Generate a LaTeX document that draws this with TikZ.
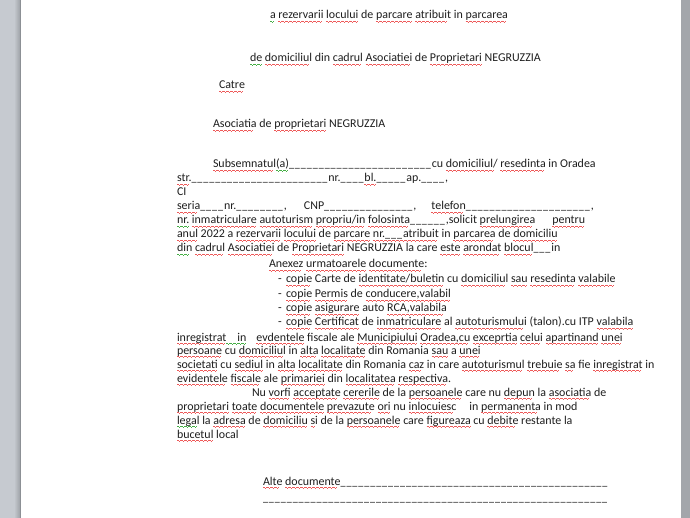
\documentclass[tikz,border=0pt]{standalone}
\usepackage{fontspec}
\setmainfont{Carlito}
\usepackage{xcolor}
\usepackage{graphicx}
\definecolor{textcol}{RGB}{30,30,30}
\definecolor{sqred}{RGB}{238,90,90}
\definecolor{sqgreen}{RGB}{70,175,70}
\definecolor{barlight}{RGB}{198,202,208}
\definecolor{bardark}{RGB}{158,162,167}
\definecolor{baredge}{RGB}{140,144,149}
\definecolor{barright}{RGB}{163,166,171}
\newsavebox\wbox
\newcommand\waveunit{\rule[1pt]{1pt}{0.6pt}\rule[0.5pt]{1pt}{0.6pt}\rule[0pt]{1pt}{0.6pt}\rule[0.5pt]{1pt}{0.6pt}}
\newcommand\wav[2]{\sbox\wbox{#2}\rlap{\lower3.2pt\hbox to\wd\wbox{\color{#1}\leaders\hbox{\waveunit}\hfill}}\usebox\wbox}
\newcommand\R[1]{\wav{sqred}{#1}}
\newcommand\G[1]{\wav{sqgreen}{#1}}
\newcount\ucnt
\newcommand\us{\rlap{\scalebox{0.84}[1]{\_}}\phantom{\_}}
\newcommand\bl[1]{\ucnt=#1\relax\loop\ifnum\ucnt>0 \us\advance\ucnt-1 \repeat}
\tikzset{
  txt/.style={anchor=base west, inner sep=0pt, outer sep=0pt,
    font=\fontsize{11.95}{14}\selectfont, text=textcol}
}
\begin{document}
\begin{tikzpicture}[x=1pt,y=-1pt]
\useasboundingbox (0,0) rectangle (690,518);
\fill[white] (0,0) rectangle (690,518);
\fill[barlight] (0,0) rectangle (14,518);
\shade[left color=barlight, right color=bardark] (14,0) rectangle (20,518);
\fill[baredge] (20,0) rectangle (21,518);
\fill[barright] (681,0) rectangle (690,518);

\node[txt] (l1) at (270,19) {\G{a} \R{rezervarii} \R{locului} de \R{parcare} \R{atribuit} in \R{parcarea}};
\node[txt] (l2) at (250,62) {\G{de} \R{domiciliul} din \R{cadrul} \R{Asociatiei} de \R{Proprietari} NEGRUZZIA};
\node[txt] (l3) at (219,89) {\R{Catre}};
\node[txt] (l4) at (213,128) {\R{Asociatia} de \R{proprietari} NEGRUZZIA};
\node[txt] (l5) at (213,168) {\R{Subsemnatul}\G{(a)}\bl{24}cu \R{domiciliul/} \R{resedinta} in Oradea};
\node[txt] (l6) at (177,182) {\R{str.}\bl{23}nr.\bl{4}\R{bl.}\bl{5}ap.\bl{4},};
\node[txt] (l7) at (177,196) {CI};
\node[txt] (l8) at (177,210) {\R{seria}\bl{4}nr.\bl{8},\hspace{17pt}CNP\bl{15},\hspace{15pt}\R{telefon}\bl{21},};
\node[txt] (l9) at (177,224) {\G{nr.} \R{inmatriculare} \R{autoturism} \R{propriu/in} \R{folosinta}\bl{6},solicit \R{prelungirea}\hspace{17pt}\R{pentru}};
\node[txt] (l10) at (177,238) {\R{anul} 2022 a \R{rezervarii} \R{locului} de \R{parcare} \R{nr.\bl{3}atribuit} in \R{parcarea} de \R{domiciliu}};
\node[txt] (l11) at (177,252) {\G{din} \R{cadrul} \R{Asociatiei} de \R{Proprietari} NEGRUZZIA la care \R{este} \R{arondat} \R{blocul}\bl{3}in};
\node[txt] (l12) at (269,268) {\R{Anexez} \R{urmatoarele} \R{documente}:};
\node[txt] (d1) at (278,283) {-};
\node[txt] (l13) at (286,283) {\R{copie} Carte de \R{identitate/buletin} cu \R{domiciliul} \R{sau} \R{resedinta} \R{valabile}};
\node[txt] (d2) at (278,298) {-};
\node[txt] (l14) at (286,298) {\R{copie} \R{Permis} de \R{conducere,valabil}};
\node[txt] (d3) at (278,312) {-};
\node[txt] (l15) at (286,312) {\R{copie} \R{asigurare} auto \R{RCA,valabila}};
\node[txt] (d4) at (278,326) {-};
\node[txt] (l16) at (286,326) {\R{copie} \R{Certificat} de \R{inmatriculare} al \R{autoturismului} (talon).cu ITP \R{valabila}};
\node[txt] (l17) at (177,341) {\R{inregistrat}\G{\hspace*{11pt}in}\hspace{10pt}\R{evdentele} fiscale ale \R{Municipiului} \R{Oradea,cu} \R{exceprtia} \R{celui} \R{apartinand} \R{unei}};
\node[txt] (l18) at (177,354) {\R{persoane} cu \R{domiciliul} in \R{alta} \R{localitate} din Romania \R{sau} a \R{unei}};
\node[txt] (l19) at (177,368) {\R{societati} cu \R{sediul} in \R{alta} \R{localitate} din Romania \R{caz} in care \R{autoturismul} \R{trebuie} \R{sa} fie \R{inregistrat} in};
\node[txt] (l20) at (177,382) {\R{evidentele} \R{fiscale} ale \R{primariei} din \R{localitatea} \R{respectiva}.};
\node[txt] (l21) at (252,396) {Nu \R{vorfi} \R{acceptate} \R{cererile} de la \R{persoanele} care nu \R{depun} la \R{asociatia} de};
\node[txt] (l22) at (177,410) {\R{proprietari} \R{toate} \R{documentele} \R{prevazute} \R{ori} nu \R{inlocuiesc}\hspace{13pt}in \R{permanenta} in mod};
\node[txt] (l23) at (177,424) {\G{legal} la \R{adresa} de \R{domiciliu} \R{si} de la \R{persoanele} care \R{figureaza} cu \R{debite} restante la};
\node[txt] (l24) at (177,438) {\R{bucetul} local};
\node[txt] (l25) at (263,485) {\R{Alte} \R{documente}\bl{45}};
\node[txt] (l26) at (263,501) {\bl{58}};
\end{tikzpicture}
\end{document}
